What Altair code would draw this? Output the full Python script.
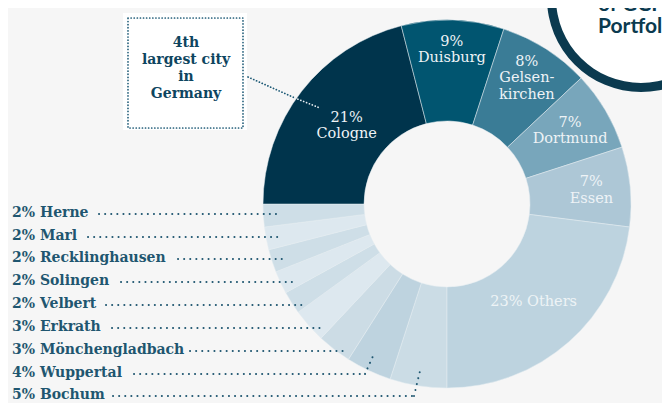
import math
import altair as alt
import pandas as pd

# ---------------- data ----------------
cities = ["Bochum", "Wuppertal", "Mönchengladbach", "Erkrath", "Velbert",
          "Solingen", "Recklinghausen", "Marl", "Herne", "Cologne",
          "Duisburg", "Gelsenkirchen", "Dortmund", "Essen", "Others"]
shares = [5, 4, 3, 3, 2, 2, 2, 2, 2, 21, 9, 8, 7, 7, 23]
colors = ["#cbdce5", "#bed3df", "#ccdce5", "#dde8ef", "#cedee7",
          "#dde8ef", "#cedee7", "#dde8ef", "#cedee7", "#00344c",
          "#015570", "#3a7c96", "#78a6bb", "#adc7d6", "#bdd3df"]

# labels drawn inside the ring
inner_label_city = ["Cologne", "Duisburg", "Gelsenkirchen", "Dortmund", "Essen", "Others"]
inner_label_lines = [["21%", "Cologne"], ["9%", "Duisburg"], ["8%", "Gelsen-", "kirchen"],
                     ["7%", "Dortmund"], ["7%", "Essen"], ["23% Others"]]

# labels listed on the left (top to bottom)
side_label_city = ["Herne", "Marl", "Recklinghausen", "Solingen", "Velbert",
                   "Erkrath", "Mönchengladbach", "Wuppertal", "Bochum"]

callout_lines = ["4th", "largest city", "in", "Germany"]
badge_lines = ["of GCP", "Portfolio"]

# ---------------- layout (pixels, chart coordinates) ----------------
CX, CY = 439, 196
R_OUT, R_IN = 184, 83
inner_label_r = [127, 154, 149, 143, 145, 131]
LH_IN = 16.5

side_y = [205, 228, 250, 273, 296, 319, 342, 365, 387]
side_x = 4
lead_start = [91, 80, 170, 113, 98, 104, 182, 126, 105]
lead_end = [269, 271, 277, 285, 294, 317, 337, 357, 406]
bend_end = {"Wuppertal": (365, 348), "Bochum": (412, 363)}

# ---------------- donut ----------------
df = pd.DataFrame({"city": cities, "share": shares, "idx": range(len(cities))})

donut = alt.Chart(df).mark_arc(
    radius=R_OUT, radius2=R_IN, stroke="#e4ecf0", strokeWidth=0.5
).encode(
    theta=alt.Theta("share:Q", stack=True,
                    scale=alt.Scale(range=[math.pi, 3 * math.pi])),
    order=alt.Order("idx:Q"),
    color=alt.Color("city:N", scale=alt.Scale(domain=cities, range=colors), legend=None),
    x=alt.value(CX), y=alt.value(CY),
)

# inner label positions from the slice angles
start = {}
acc = 0
for c, s in zip(cities, shares):
    start[c] = acc
    acc += s
rows = []
for c, lines, r in zip(inner_label_city, inner_label_lines, inner_label_r):
    s = shares[cities.index(c)]
    ang = math.radians(180 + (start[c] + s / 2) * 3.6)
    lx = CX + r * math.sin(ang)
    ly = CY - r * math.cos(ang)
    n = len(lines)
    for i, t in enumerate(lines):
        rows.append({"x": lx, "y": ly + (i - (n - 1) / 2) * LH_IN, "t": t})
inner_df = pd.DataFrame(rows)

def X(f):
    return alt.X(f"{f}:Q", scale=None, axis=None)

def Y(f):
    return alt.Y(f"{f}:Q", scale=None, axis=None)

inner_text = alt.Chart(inner_df).mark_text(
    font="DejaVu Serif", fontSize=14.5, color="#eef3f6", baseline="middle", align="center"
).encode(x=X("x"), y=Y("y"), text="t:N")

# side labels
side_df = pd.DataFrame({
    "t": [f"{shares[cities.index(c)]}% {c}" for c in side_label_city],
    "x": [side_x] * len(side_label_city),
    "y": side_y,
})
side_text = alt.Chart(side_df).mark_text(
    font="DejaVu Serif", fontWeight="bold", fontSize=14, color="#1f5670",
    baseline="middle", align="left"
).encode(x=X("x"), y=Y("y"), text="t:N")

seg = []
for c, y, a, b in zip(side_label_city, side_y, lead_start, lead_end):
    seg.append({"x": a, "y": y + 1, "x2": b, "y2": y + 1})
    if c in bend_end:
        ex, ey = bend_end[c]
        seg.append({"x": b, "y": y + 1, "x2": ex, "y2": ey})
seg_df = pd.DataFrame(seg)
leaders = alt.Chart(seg_df).mark_rule(
    color="#1f5670", strokeWidth=2, strokeDash=[0.1, 6], strokeCap="round"
).encode(x=X("x"), y=Y("y"), x2="x2:Q", y2="y2:Q")

# callout box
box_df = pd.DataFrame({"x": [115], "x2": [239], "y": [5], "y2": [122]})
box_bg = alt.Chart(box_df).mark_rect(color="white").encode(
    x=X("x"), x2="x2:Q", y=Y("y"), y2="y2:Q")
border_df = pd.DataFrame({"x": [120], "x2": [235], "y": [10], "y2": [120]})
box_border = alt.Chart(border_df).mark_rect(
    fill="white", stroke="#1d5a76", strokeWidth=1.7, strokeDash=[0.1, 3],
    strokeCap="round"
).encode(x=X("x"), x2="x2:Q", y=Y("y"), y2="y2:Q")

call_df = pd.DataFrame({"t": callout_lines, "x": [178] * 4, "y": [35, 52, 69, 86]})
call_text = alt.Chart(call_df).mark_text(
    font="DejaVu Serif", fontWeight="bold", fontSize=14, color="#0e4560",
    baseline="middle", align="center"
).encode(x=X("x"), y=Y("y"), text="t:N")

cl_dark = pd.DataFrame({"x": [240], "y": [69], "x2": [287], "y2": [90]})
cl_light = pd.DataFrame({"x": [287], "y": [90], "x2": [312], "y2": [100]})
call_line1 = alt.Chart(cl_dark).mark_rule(
    color="#1d5a76", strokeWidth=1.7, strokeDash=[0.1, 3], strokeCap="round"
).encode(x=X("x"), y=Y("y"), x2="x2:Q", y2="y2:Q")
call_line2 = alt.Chart(cl_light).mark_rule(
    color="#e8eef2", strokeWidth=1.7, strokeDash=[0.1, 3], strokeCap="round"
).encode(x=X("x"), y=Y("y"), x2="x2:Q", y2="y2:Q")

# badge (top right)
one = pd.DataFrame({"k": [0]})
BX, BY = 633, -10
badge_fill = alt.Chart(one).mark_arc(
    theta=0, theta2=2 * math.pi, radius=86, color="white"
).encode(x=alt.value(BX), y=alt.value(BY))
badge_ring = alt.Chart(one).mark_arc(
    theta=0, theta2=2 * math.pi, radius=94, radius2=85, color="#0b3a4f"
).encode(x=alt.value(BX), y=alt.value(BY))
badge_df = pd.DataFrame({"t": badge_lines, "x": [590, 590], "y": [3, 25]})
badge_text = alt.Chart(badge_df).mark_text(
    font="Lato", fontWeight="bold", fontSize=21, color="#0b3a4f",
    baseline="alphabetic", align="left"
).encode(x=X("x"), y=Y("y"), text="t:N")

chart = alt.layer(
    donut, inner_text, leaders, side_text,
    box_bg, box_border, call_text, call_line1, call_line2,
    badge_fill, badge_ring, badge_text,
).properties(
    width=654, height=395, padding=0, autosize="none"
).configure(background="#f6f6f6").configure_view(stroke=None)

chart.save("out.html", embed_options={"renderer": "svg", "actions": False})
